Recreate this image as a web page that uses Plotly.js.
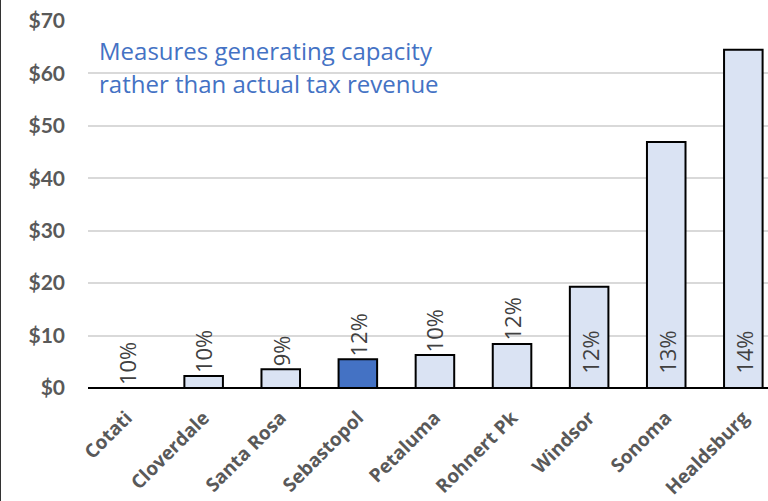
<!DOCTYPE html>
<html>
<head>
<meta charset="utf-8">
<script src="https://cdn.plot.ly/plotly-3.0.1.min.js"></script>
<style>
html,body{margin:0;padding:0;background:#fff;}
#chart{width:767px;height:501px;border-left:1px solid #333;}
</style>
</head>
<body>
<div id="chart"></div>
<script>
// Data
var cities = ["Cotati","Cloverdale","Santa Rosa","Sebastopol","Petaluma","Rohnert Pk","Windsor","Sonoma","Healdsburg"];
var capacity = [0, 2.3, 3.6, 5.5, 6.3, 8.4, 19.3, 46.9, 64.5];
var taxRate = [10, 10, 9, 12, 10, 12, 12, 13, 14];
var highlightCity = "Sebastopol";
var noteLines = ["Measures generating capacity", "rather than actual tax revenue"];

var lightFill = "#dae3f3", darkFill = "#4472c4";
var colors = cities.map(function(c){ return c === highlightCity ? darkFill : lightFill; });

var trace = {
  type: "bar",
  x: cities,
  y: capacity,
  width: 0.5,
  marker: {color: colors, line: {color: "#000", width: 2}},
  hoverinfo: "x+y"
};

var labelFont = {family: "Open Sans, Lato, sans-serif", size: 22, color: "#404040"};
var annotations = cities.map(function(c, i){
  var inside = capacity[i] > 15;
  return {
    x: c, y: inside ? 0 : capacity[i],
    xref: "x", yref: "y",
    text: taxRate[i] + "%",
    textangle: -90,
    showarrow: false,
    xanchor: "center", yanchor: "bottom",
    yshift: inside ? 12 : 1,
    font: labelFont
  };
});
noteLines.forEach(function(line, k){
  annotations.push({
    xref: "paper", yref: "paper",
    x: 0.013, y: 0.97 - k * 0.09,
    xanchor: "left", yanchor: "top", align: "left",
    text: line, showarrow: false,
    font: {family: "Open Sans, sans-serif", size: 24, color: "#4472c4"}
  });
});

var layout = {
  width: 767, height: 501,
  margin: {l: 87, r: 0, t: 21, b: 113},
  paper_bgcolor: "#fff", plot_bgcolor: "#fff",
  showlegend: false,
  xaxis: {
    type: "category",
    range: [-0.5, 8.32],
    tickangle: -45,
    ticklabelstandoff: 14,
    tickfont: {family: "Open Sans, sans-serif", size: 19, color: "#595959", weight: "bold"},
    showgrid: false, zeroline: false, showline: false, ticks: ""
  },
  yaxis: {
    range: [0, 70],
    dtick: 10,
    tickprefix: "$",
    showgrid: true, gridcolor: "#d9d9d9", gridwidth: 2,
    zeroline: true, zerolinecolor: "#000", zerolinewidth: 2,
    showline: false, ticks: "",
    ticklabelstandoff: 22,
    tickfont: {family: "Lato, sans-serif", size: 21, color: "#595959", weight: "bold"}
  },
  annotations: annotations
};

Plotly.newPlot("chart", [trace], layout, {displayModeBar: false, staticPlot: true});
</script>
</body>
</html>
